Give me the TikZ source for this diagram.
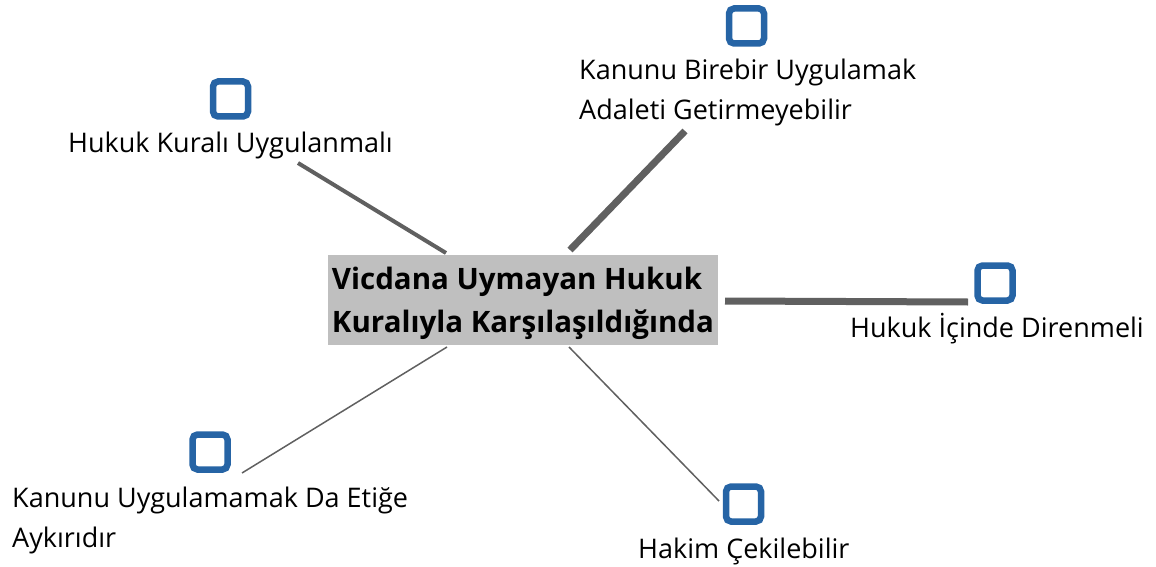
\documentclass[tikz,border=0pt]{standalone}
\usepackage{fontspec}
\setmainfont{Open Sans}
\definecolor{boxblue}{RGB}{38,100,165}
\definecolor{hubgray}{RGB}{191,191,191}
\definecolor{linkgray}{RGB}{96,96,96}
\tikzset{
  chk/.style={draw=boxblue, line width=6.5pt, rounded corners=5pt, minimum size=35pt, inner sep=0pt, fill=white},
  lbl/.style={anchor=base west, inner sep=0pt, align=left, font=\fontsize{27pt}{40pt}\selectfont, text=black},
  hub/.style={fill=hubgray, inner xsep=1pt, inner ysep=0pt, minimum height=90pt, minimum width=390pt, align=left, font=\fontsize{29.5pt}{43pt}\selectfont\bfseries},
  link/.style={draw=linkgray}
}
\begin{document}
\begin{tikzpicture}[x=1pt,y=-1pt]
\useasboundingbox (0,0) rectangle (1156,567);
\node[hub] (hub) at (523,300) {\rule{0pt}{29.5pt}Vicdana Uymayan Hukuk\\Kuralıyla Karşılaşıldığında};

\node[chk] (b1) at (230.5,99) {};
\node[chk] (b2) at (746.5,26) {};
\node[chk] (b3) at (995,283) {};
\node[chk] (b4) at (210,452) {};
\node[chk] (b5) at (743.5,504) {};

\node[lbl] (l1) at (68,153) {Hukuk Kuralı Uygulanmalı};
\node[lbl] (l2) at (579,120) {Kanunu Birebir Uygulamak\\Adaleti Getirmeyebilir};
\node[lbl] (l3) at (850,337) {Hukuk İçinde Direnmeli};
\node[lbl] (l4) at (12,547) {Kanunu Uygulamamak Da Etiğe\\Aykırıdır};
\node[lbl] (l5) at (638,558) {Hakim Çekilebilir};

\coordinate (h1) at (446,253);
\coordinate (t1) at (298,163);
\coordinate (h2) at (570,250);
\coordinate (t2) at (685,131);
\coordinate (h3) at (725,301);
\coordinate (t3) at (968,302);
\coordinate (h4) at (447,347);
\coordinate (t4) at (242,473);
\coordinate (h5) at (569,347);
\coordinate (t5) at (719,501);

\draw[link, line width=4pt] (h1) -- (t1);
\draw[link, line width=7pt] (h2) -- (t2);
\draw[link, line width=7pt] (h3) -- (t3);
\draw[link, line width=1.5pt] (h4) -- (t4);
\draw[link, line width=1.5pt] (h5) -- (t5);
\end{tikzpicture}
\end{document}
